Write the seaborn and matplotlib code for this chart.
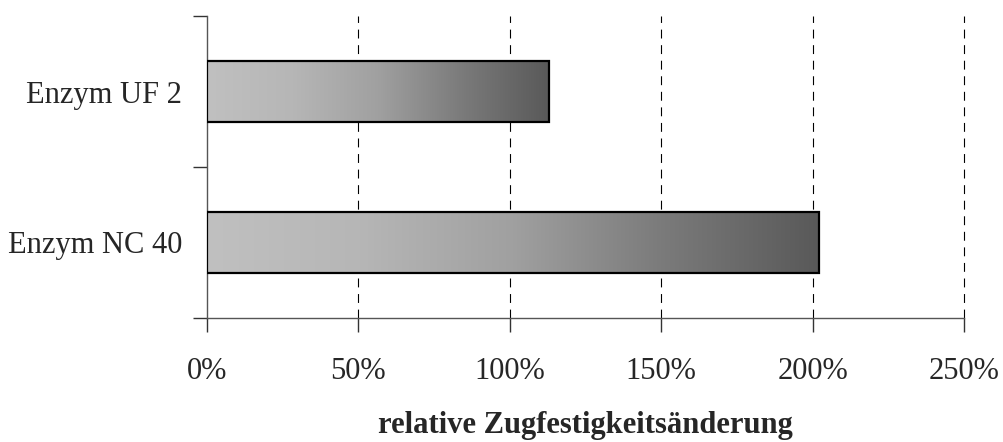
import numpy as np
import pandas as pd
import matplotlib
matplotlib.use("Agg")
import matplotlib.pyplot as plt
from matplotlib.colors import LinearSegmentedColormap
from matplotlib.ticker import FuncFormatter, FixedLocator
import seaborn as sns

# Relative change in tensile strength per enzyme treatment (1.0 = 100 %)
categories = ["Enzym UF 2", "Enzym NC 40"]
values = [1.13, 2.02]
x_ticks = [0.0, 0.5, 1.0, 1.5, 2.0, 2.5]
x_label = "relative Zugfestigkeitsänderung"

sns.set_style("ticks")
plt.rcParams["font.family"] = ["Liberation Serif", "DejaVu Serif"]

df = pd.DataFrame({"Enzym": categories, "Änderung": values})

fig = plt.figure(figsize=(10.04, 4.42), dpi=100)
ax = fig.add_axes([207 / 1004, 1 - 318 / 442, (964 - 207) / 1004, (318 - 16) / 442])

sns.barplot(data=df, x="Änderung", y="Enzym", orient="h", width=0.4,
            color="white", edgecolor="black", linewidth=1.6, ax=ax, zorder=3)

# Horizontal grey gradient inside each bar, light on the left, dark on the right
grey_ramp = LinearSegmentedColormap.from_list(
    "grey_ramp",
    [(0.0, "#c0c0c0"), (0.25, "#b6b6b6"), (0.5, "#a0a0a0"),
     (0.75, "#7a7a7a"), (1.0, "#595959")])
gradient = np.linspace(0, 1, 256).reshape(1, -1)
for bar in ax.patches:
    x0, y0 = bar.get_x(), bar.get_y()
    w, h = bar.get_width(), bar.get_height()
    img = ax.imshow(gradient, cmap=grey_ramp, aspect="auto",
                    extent=(x0, x0 + w, y0 + h, y0), zorder=3.5,
                    interpolation="bicubic")
    img.set_clip_path(bar)
    bar.set_zorder(4)
    bar.set_facecolor("none")

ax.set_xlim(0, 2.5)
ax.set_ylim(1.5, -0.5)

ax.xaxis.set_major_locator(FixedLocator(x_ticks))
ax.xaxis.set_major_formatter(FuncFormatter(lambda v, _: f"{v * 100:.0f}%"))
for xv in x_ticks[1:]:
    ax.axvline(xv, color="black", linewidth=0.8, linestyle=(0, (8, 6)),
               zorder=1, clip_on=False)

# Category separators on the value axis as tick marks, labels centred on bars
ax.yaxis.set_minor_locator(FixedLocator([-0.5, 0.5, 1.5]))
ax.tick_params(axis="y", which="major", length=0, pad=18, labelsize=22)
ax.tick_params(axis="y", which="minor", length=10, width=1, direction="out", color="#333333")
ax.tick_params(axis="x", which="major", length=10, width=1, direction="out",
               pad=18, labelsize=22, color="#333333")

sns.despine(ax=ax, top=True, right=True)
for side in ("left", "bottom"):
    ax.spines[side].set_color("#555555")
    ax.spines[side].set_linewidth(1.0)

ax.set_ylabel("")
ax.set_xlabel(x_label, fontsize=22, fontweight="bold", labelpad=18)

fig.savefig("out.png", dpi=100)
